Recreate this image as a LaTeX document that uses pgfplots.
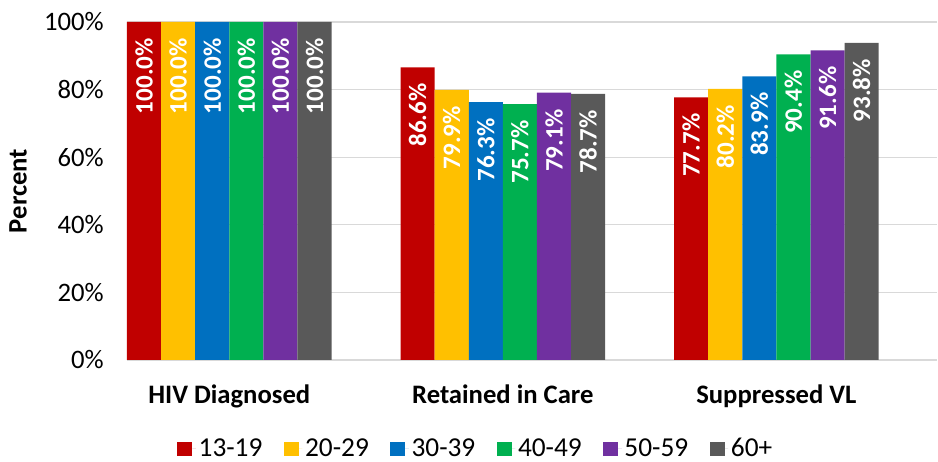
\documentclass[border=0pt]{standalone}
\usepackage{pgfplots}
\pgfplotsset{compat=1.18}
\usetikzlibrary{calc}
\usepackage{fontspec}
\setmainfont{Carlito}
\definecolor{c1}{HTML}{C00000}
\definecolor{c2}{HTML}{FFC000}
\definecolor{c3}{HTML}{0070C0}
\definecolor{c4}{HTML}{00B050}
\definecolor{c5}{HTML}{7030A0}
\definecolor{c6}{HTML}{595959}
\definecolor{gridgray}{HTML}{D9D9D9}
\newcommand{\fs}{\fontsize{20}{24}\selectfont}
\newcommand{\fl}{\fontsize{20.5}{24}\selectfont}
\newcommand{\fb}{\fontsize{18.8}{22}\selectfont}
\begin{document}
\begin{tikzpicture}
\begin{axis}[
  name=ax, scale only axis, width=607.5pt, height=253.5pt,
  ybar=0pt, bar width=0.1246,
  xmin=-0.3738, xmax=2.587, ymin=0, ymax=100,
  xtick={0,1,2}, xticklabels={HIV Diagnosed, Retained in Care, Suppressed VL},
  ytick={0,20,...,100},
  yticklabel={\pgfmathprintnumber{\tick}\%},
  /pgf/number format/assume math mode=true,
  major tick length=0pt,
  axis line style={draw=none},
  ymajorgrids, grid style={draw=gridgray, line width=1pt},
  tick label style={font=\fs},
  xticklabel style={font=\fs\bfseries, yshift=-15pt},
  yticklabel style={xshift=-14pt},
  ylabel={Percent},
  ylabel style={font=\fs\bfseries, at={(axis description cs:-0.1346,0.5)}, anchor=center},
  nodes near coords={\pgfmathprintnumber[fixed,fixed zerofill,precision=1]{\pgfplotspointmeta}\%},
  every node near coord/.append style={rotate=90, anchor=east, text=white, font=\fb\bfseries, inner xsep=12pt, inner ysep=0pt},
  legend columns=6,
  legend style={draw=none, at={(0.431,-0.262)}, anchor=center, font=\fl,
    /tikz/every even column/.append style={column sep=14pt}},
  legend image code/.code={\fill[#1] (0pt,-5.25pt) rectangle (11.25pt,5.25pt); \path (11.25pt,0pt) -- (14pt,0pt);},
]
\addplot[fill=c1, draw=none] coordinates {(0,100) (1,86.6) (2,77.7)};
\addplot[fill=c2, draw=none] coordinates {(0,100) (1,79.9) (2,80.2)};
\addplot[fill=c3, draw=none] coordinates {(0,100) (1,76.3) (2,83.9)};
\addplot[fill=c4, draw=none] coordinates {(0,100) (1,75.7) (2,90.4)};
\addplot[fill=c5, draw=none] coordinates {(0,100) (1,79.1) (2,91.6)};
\addplot[fill=c6, draw=none] coordinates {(0,100) (1,78.7) (2,93.8)};
\legend{13-19,20-29,30-39,40-49,50-59,60+}
\end{axis}
\pgfresetboundingbox
\path[use as bounding box] ($(ax.south west)+(-95.25pt,-76.5pt)$) rectangle ($(ax.north east)+(0.75pt,16.5pt)$);
\end{tikzpicture}
\end{document}
